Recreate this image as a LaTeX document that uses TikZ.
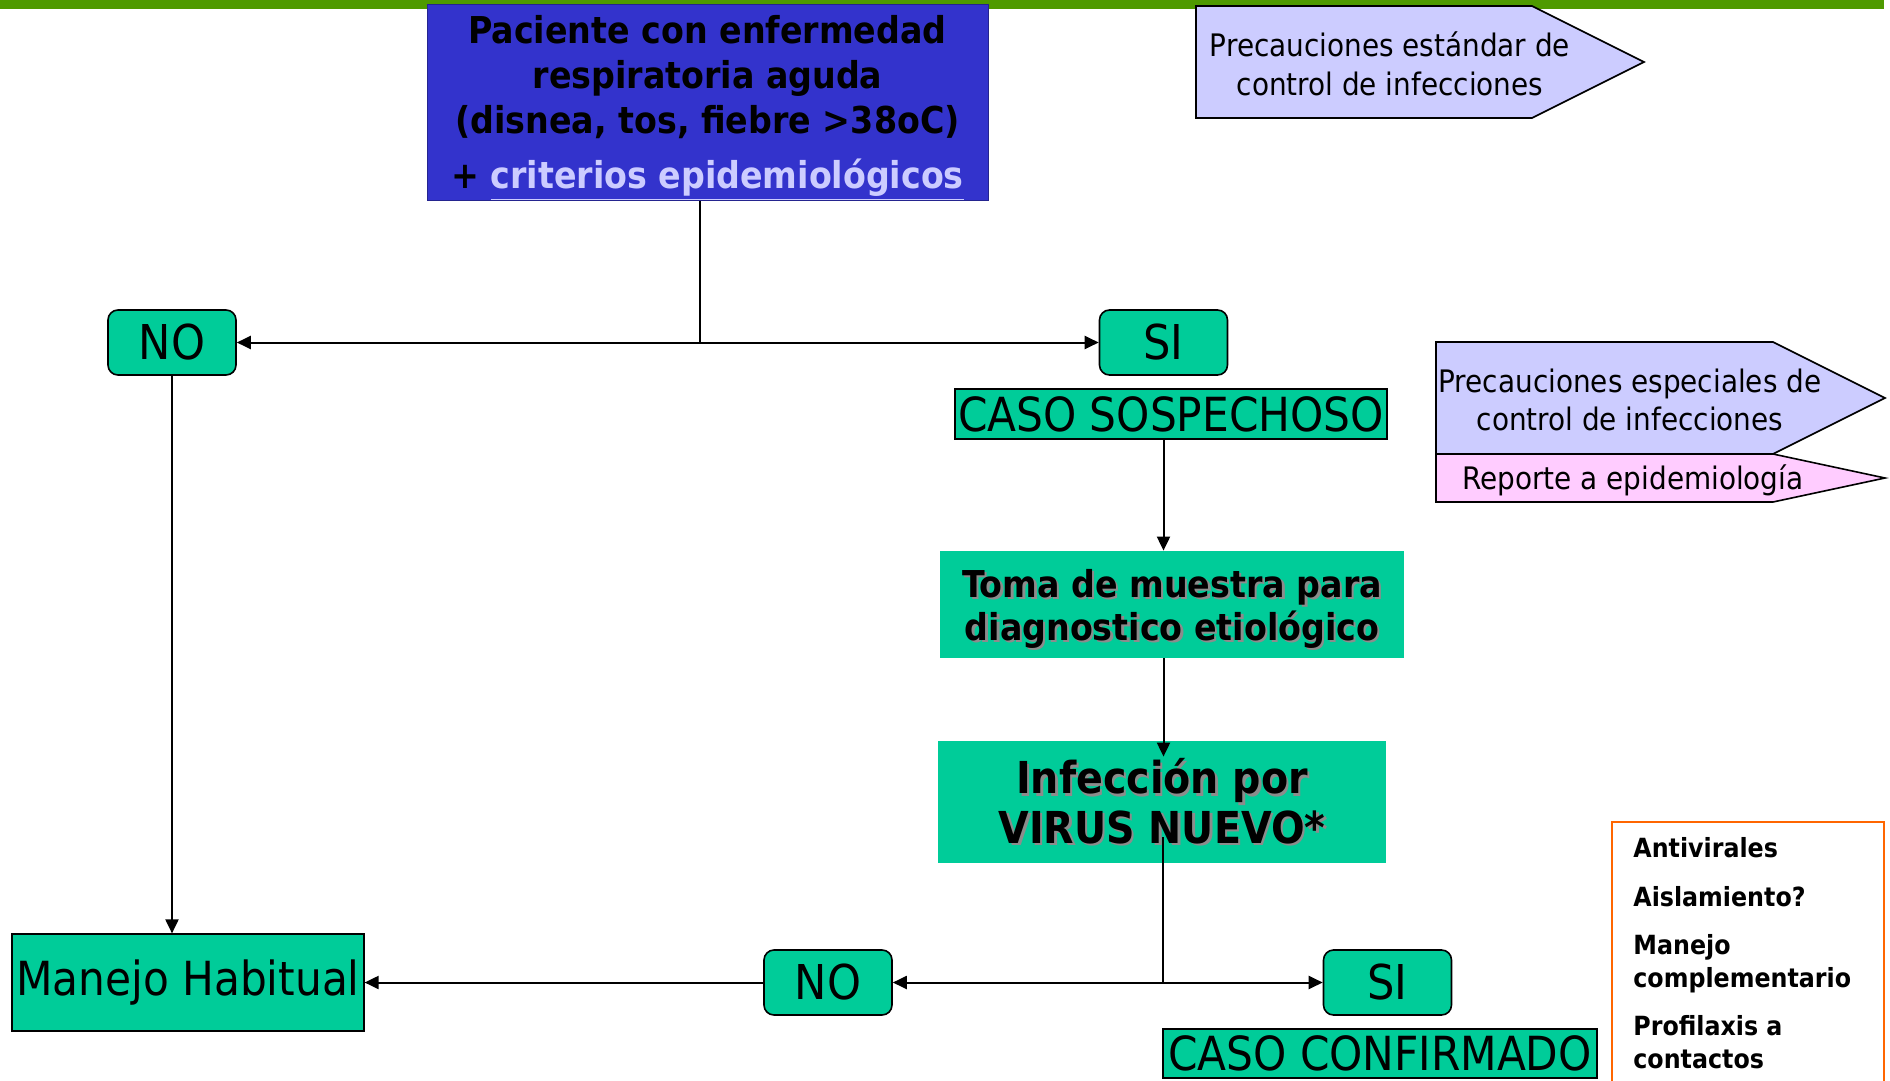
\documentclass[tikz,border=0pt]{standalone}
\usepackage{fontspec}
\setmainfont{DejaVu Sans Condensed}
\usetikzlibrary{arrows.meta}

\definecolor{barra}{RGB}{78,154,0}
\definecolor{verde}{RGB}{0,204,153}
\definecolor{azul}{RGB}{51,51,204}
\definecolor{lila}{RGB}{204,204,255}
\definecolor{rosa}{RGB}{255,204,255}
\definecolor{naranja}{RGB}{255,102,0}

\newcommand{\sombra}[1]{\makebox[0pt][l]{\hspace{1.2pt}\raisebox{-1.2pt}{\color{black!45}#1}}#1}

\tikzset{
  caja/.style = {fill=verde, draw, line width=0.8pt, rounded corners=5pt, minimum width=64pt, minimum height=32.5pt, inner sep=0pt, font=\fontsize{24}{28}\selectfont},
  caso/.style = {fill=verde, draw, line width=0.6pt, inner sep=0pt, font=\fontsize{23.5}{27}\selectfont},
  paso/.style = {fill=verde, inner sep=0pt, align=center},
  aviso/.style = {draw, line width=0.8pt},
  avisotxt/.style = {align=center, inner sep=0pt, font=\fontsize{15.5}{19.3}\selectfont},
  flecha/.style = {-{Triangle[length=7pt,width=6.5pt]}, line width=1pt},
  linea/.style = {line width=1pt}
}

\begin{document}
\begin{tikzpicture}[x=0.5pt,y=-0.5pt]
\useasboundingbox (0,0) rectangle (1890,1081);
\fill[barra] (0,0) rectangle (1884,9);

% paciente
\node[fill=azul, draw=azul!70!black, line width=0.5pt, minimum width=280.5pt, minimum height=96.5pt, inner sep=0pt, align=center, font=\bfseries\fontsize{18.5}{22.5}\selectfont] (pac) at (707.5,102.5) {\rule{0pt}{19.5pt}Paciente con enfermedad\\respiratoria aguda\\(disnea, tos, fiebre >38oC)\\[5pt]+ {\color{lila}\underline{criterios epidemiológicos}}};

% precauciones
\filldraw[fill=lila, aviso] (1196,6) -- (1532,6) -- (1644,62) -- (1532,118) -- (1196,118) -- cycle;
\node[avisotxt] (std) at (1390,64) {Precauciones estándar de\\control de infecciones};
\filldraw[fill=lila, aviso] (1436,342) -- (1773,342) -- (1885,398) -- (1773,454) -- (1436,454) -- cycle;
\filldraw[fill=rosa, aviso] (1436,454) -- (1773,454) -- (1885,478) -- (1773,502) -- (1436,502) -- cycle;
\node[avisotxt] (esp) at (1630,400) {Precauciones especiales de\\control de infecciones};
\node[avisotxt] (rep) at (1633,480) {Reporte a epidemiología};

% flujo
\node[caja] (no1) at (172,342.5) {NO};
\node[caja] (si1) at (1163.5,342.5) {SI};
\node[caso, minimum width=216pt, minimum height=25pt] (cs) at (1171,414) {CASO SOSPECHOSO};
\node[paso, minimum width=232pt, minimum height=53.5pt, font=\bfseries\fontsize{18.5}{21.7}\selectfont] (toma) at (1172,604.5) {\rule{0pt}{19.5pt}\sombra{Toma de muestra para}\\\sombra{diagnostico etiológico}};
\node[paso, minimum width=224pt, minimum height=61pt, font=\bfseries\fontsize{22}{24.7}\selectfont] (inf) at (1162,802) {\rule{0pt}{18pt}\sombra{Infección por}\\\sombra{VIRUS NUEVO*}};
\node[caja] (no2) at (828,982.5) {NO};
\node[caja] (si2) at (1387.5,982.5) {SI};
\node[caso, minimum width=176pt, minimum height=48.5pt] (man) at (188,982.5) {Manejo Habitual};
\node[caso, minimum width=217pt, minimum height=24.5pt] (cc) at (1380,1053.5) {CASO CONFIRMADO};

\coordinate (j1) at (700,342.5);
\coordinate (j2) at (1163,982.5);
\draw[linea] (pac.south -| j1) -- (j1);
\draw[flecha] (j1) -- (no1);
\draw[flecha] (j1) -- (si1);
\draw[flecha] (no1) -- (no1 |- man.north);
\draw[flecha] (cs.south -| si1) -- (toma.north -| si1);
\draw[flecha] (toma.south -| si1) -- ([yshift=-8pt]inf.north -| si1);
\draw[linea] ([yshift=13pt]inf.south -| j2) -- (j2);
\draw[flecha] (j2) -- (no2);
\draw[flecha] (j2) -- (si2);
\draw[flecha] (no2) -- (man);

% manejo
\draw[naranja, line width=1pt] (1612,1100) -- (1612,822) -- (1884,822) -- (1884,1100);
\node[anchor=base west, align=left, inner sep=0pt, font=\bfseries\fontsize{13.2}{16.25}\selectfont] (lista) at (1633,1068) {Antivirales\\[8pt]Aislamiento?\\[8pt]Manejo\\complementario\\[8pt]Profilaxis a\\contactos};
\end{tikzpicture}
\end{document}
